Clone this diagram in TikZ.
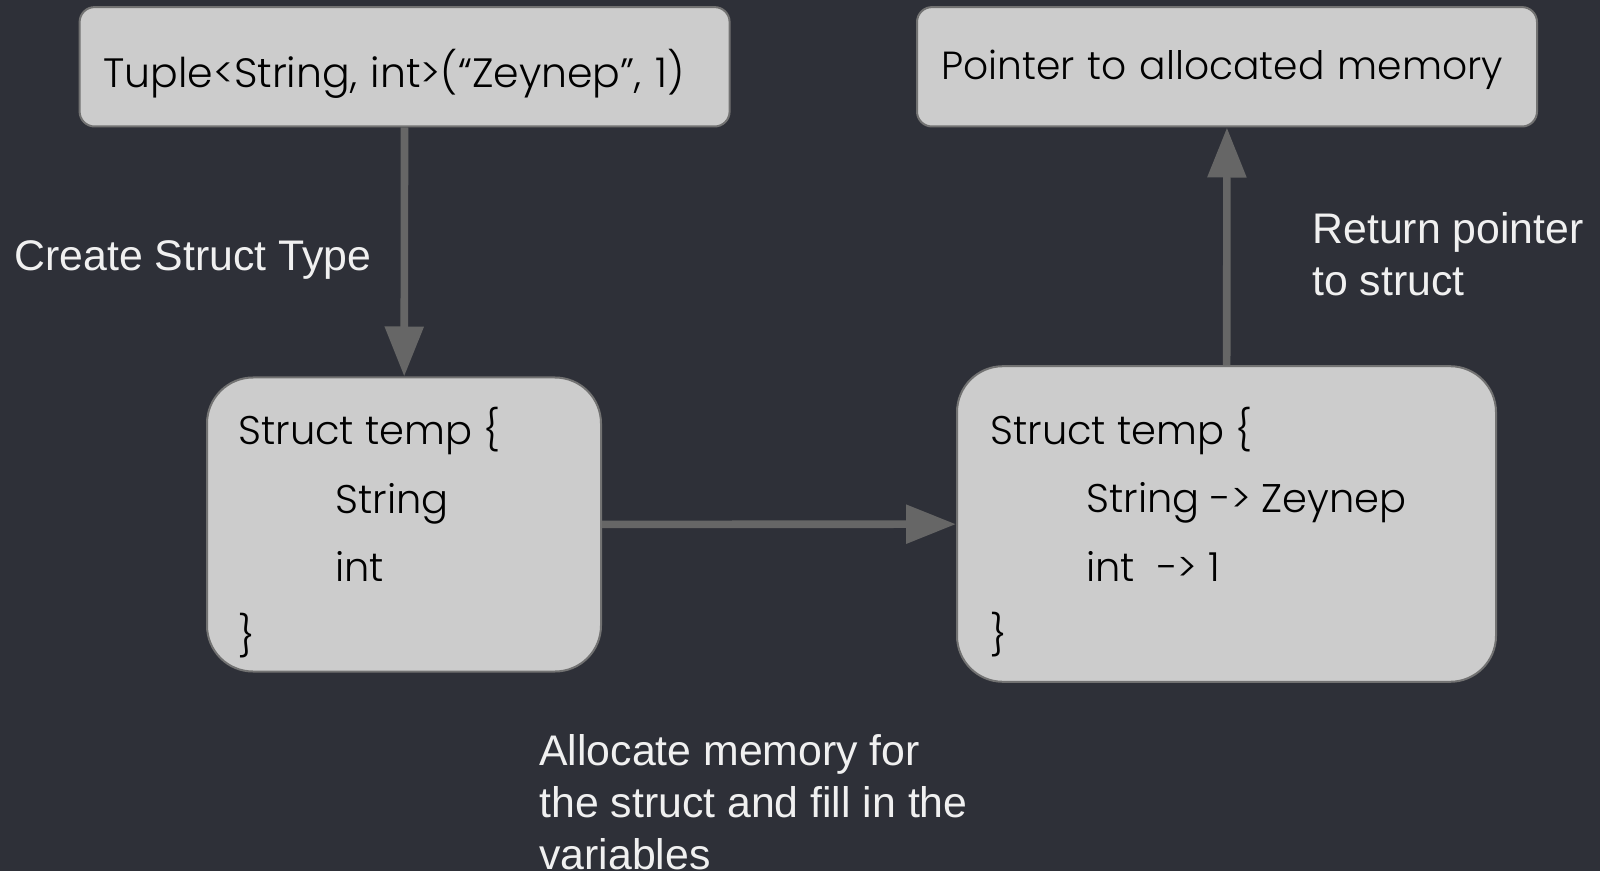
\documentclass[tikz,border=0pt]{standalone}
\usepackage{fontspec}
\usepackage{tikz}
\usetikzlibrary{arrows.meta}
\newfontfamily\boxfont{Poppins Light}
\newfontfamily\labelfont{Liberation Sans}
\definecolor{bgdark}{HTML}{2E3038}
\definecolor{boxfill}{HTML}{CCCCCC}
\definecolor{boxline}{HTML}{727272}
\definecolor{arrowgray}{HTML}{666666}
\definecolor{labeltext}{HTML}{F0F0F0}

\begin{document}
\begin{tikzpicture}[x=0.5pt,y=-0.5pt,
    tbox/.style={draw=boxline,line width=1pt,fill=boxfill,rounded corners=7.5pt,inner xsep=12pt,align=left,minimum height=59.7pt},
    sbox/.style={draw=boxline,line width=1pt,fill=boxfill,rounded corners=23pt},
    stext/.style={inner sep=0pt,anchor=west,align=left,font=\boxfont\fontsize{20}{34.2}\selectfont},
    lbl/.style={text=labeltext,inner sep=0pt,anchor=west,align=left,font=\labelfont\fontsize{21.4}{25.9}\selectfont},
    flow/.style={draw=arrowgray,line width=3.8pt,-{Triangle[width=18.7pt,length=25pt]}}]
    \useasboundingbox (0,0) rectangle (1600,871);
    \fill[bgdark] (0,0) rectangle (1600,871);
    %boxes
    \node[tbox,minimum width=325pt,text width=301pt,text height=24pt,text depth=3pt,font=\boxfont\fontsize{20.5}{26}\selectfont] (tuple) at (404.6,66.8) {\mbox{Tuple<String, int>(“Zeynep”, 1)}};
    \node[tbox,minimum width=310pt,text width=286pt,text height=17pt,text depth=4pt,font=\boxfont\fontsize{19.6}{26}\selectfont] (pointer) at (1227,66.8) {\mbox{Pointer to allocated memory}};
    \node[sbox,minimum width=197pt,minimum height=147pt] (lstruct) at (404,524.5) {};
    \node[sbox,minimum width=269.5pt,minimum height=157.8pt] (rstruct) at (1226.5,524) {};
    \node[stext] (ltext) at ([xshift=16pt,yshift=-4pt]lstruct.west) {Struct temp \{\\\hspace*{48.5pt}String\\\hspace*{48.5pt}int\\\}};
    \node[stext] (rtext) at ([xshift=17pt,yshift=-4pt]rstruct.west) {Struct temp \{\\\hspace*{48pt}String -> Zeynep\\\hspace*{48pt}int~~-> 1\\\}};
    %labels
    \node[lbl] (create) at (14.3,260) {Create Struct Type};
    \node[lbl] (return) at (1312,254.6) {Return pointer\\to struct};
    \node[lbl] (alloc) at (539,802) {Allocate memory for\\the struct and fill in the\\variables};
    \draw (tuple) edge[flow] (lstruct) ;
    \draw (lstruct) edge[flow] (rstruct) ;
    \draw (rstruct) edge[flow] (pointer) ;
\end{tikzpicture}
\end{document}
